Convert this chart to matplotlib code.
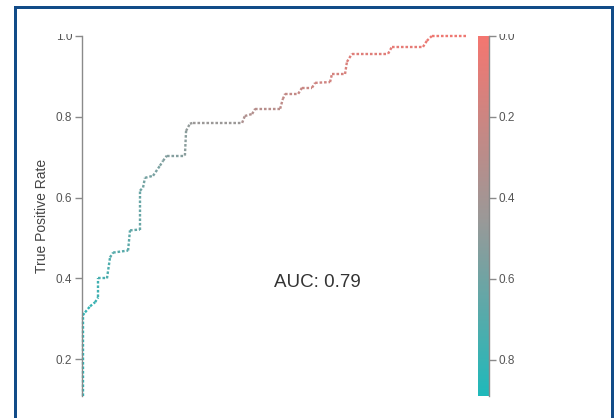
import numpy as np
import matplotlib as mpl
mpl.use("Agg")
import matplotlib.pyplot as plt
from matplotlib.collections import LineCollection
from matplotlib.colors import LinearSegmentedColormap, Normalize
from matplotlib.lines import Line2D
from matplotlib.patches import Rectangle

plt.rcParams['font.family'] = ['Liberation Sans', 'DejaVu Sans']

# ROC curve vertices and the threshold at each one
fpr = [0.002, 0.002, 0.008, 0.021, 0.034, 0.042, 0.042, 0.065, 0.073, 0.081,
       0.120, 0.125, 0.151, 0.151, 0.159, 0.164, 0.185, 0.203, 0.211, 0.221,
       0.268, 0.271, 0.281, 0.289, 0.417, 0.424, 0.443, 0.451, 0.516, 0.523,
       0.529, 0.563, 0.573, 0.599, 0.607, 0.646, 0.651, 0.685, 0.690, 0.703,
       0.797, 0.807, 0.888, 0.898, 0.911, 1.000]
tpr = [0.110, 0.309, 0.316, 0.331, 0.341, 0.353, 0.400, 0.400, 0.452, 0.464,
       0.469, 0.519, 0.521, 0.617, 0.625, 0.649, 0.654, 0.679, 0.691, 0.704,
       0.704, 0.765, 0.783, 0.785, 0.785, 0.802, 0.807, 0.820, 0.820, 0.844,
       0.857, 0.857, 0.872, 0.872, 0.884, 0.886, 0.906, 0.906, 0.936, 0.956,
       0.956, 0.973, 0.973, 0.988, 1.000, 1.000]
thresholds = [0.87, 0.84, 0.82, 0.80, 0.78, 0.77, 0.74, 0.72, 0.70, 0.69,
              0.67, 0.65, 0.63, 0.60, 0.59, 0.58, 0.57, 0.55, 0.54, 0.53,
              0.51, 0.48, 0.46, 0.45, 0.36, 0.34, 0.33, 0.31, 0.28, 0.26,
              0.25, 0.23, 0.22, 0.20, 0.19, 0.17, 0.16, 0.14, 0.12, 0.11,
              0.08, 0.07, 0.05, 0.04, 0.03, 0.00]
auc = 0.79
cbar_ticks = [0.0, 0.2, 0.4, 0.6, 0.8]

W, H = 614, 418
fig = plt.figure(figsize=(W / 100, H / 100), dpi=100)

def fx(px):
    return px / W

def fy(py):
    return 1 - py / H

cmap = LinearSegmentedColormap.from_list(
    "thr", ["#F47670", "#9C9897", "#1FB9BA"])
norm = Normalize(vmin=0.0, vmax=0.89)

ax = fig.add_axes([fx(82), fy(396), fx(466) - fx(82), fy(36) - fy(396)])
pts = np.column_stack([fpr, tpr])
segs = np.stack([pts[:-1], pts[1:]], axis=1)
seg_thr = np.array(thresholds[:-1])
lc = LineCollection(segs, cmap=cmap, norm=norm, linewidths=1.7,
                    linestyles=[(0, (1.1, 0.8))], capstyle='butt',
                    clip_on=False)
lc.set_array(seg_thr)
ax.add_collection(lc)
ax.set_xlim(0, 1)
ax.set_ylim(0.109, 1.0)
ax.set_yticks([0.2, 0.4, 0.6, 0.8, 1.0])
ax.set_yticklabels(["0.2", "0.4", "0.6", "0.8", "1.0"])
ax.set_xticks([])
for s in ["top", "right", "bottom"]:
    ax.spines[s].set_visible(False)
ax.spines["left"].set_color("#8a8a8a")
ax.spines["left"].set_linewidth(1.0)
ax.tick_params(axis="y", colors="#8a8a8a", labelcolor="#555555",
               labelsize=8.5, length=5, width=1.0, pad=2)
ax.set_ylabel("True Positive Rate", fontsize=10, color="#444444", labelpad=5)
ax.text(0.612, 0.39, f"AUC: {auc:.2f}", fontsize=13.5, color="#333333",
        ha="center", va="center")

# threshold colour bar
cax = fig.add_axes([fx(478), fy(396), fx(489) - fx(478), fy(36) - fy(396)])
sm = mpl.cm.ScalarMappable(norm=norm, cmap=cmap)
cb = fig.colorbar(sm, cax=cax, ticks=cbar_ticks)
cb.outline.set_visible(False)
cax.invert_yaxis()
cax.set_yticklabels([f"{t:.1f}" for t in cbar_ticks])
cax.tick_params(axis="y", colors="#8a8a8a", labelcolor="#555555",
                labelsize=8.5, length=5, width=1.0, pad=2)
cax.axvline(1.0, color="#8a8a8a", lw=1.0, clip_on=False)

# white strip above the panel, then the blue frame
fig.add_artist(Rectangle((fx(16), fy(34)), fx(610) - fx(16), fy(8) - fy(34),
                         transform=fig.transFigure, facecolor="white",
                         edgecolor="none", zorder=10))
blue = "#124C88"
lw = 3 * 72 / 100
fig.add_artist(Line2D([fx(14.5), fx(14.5), fx(611.5), fx(611.5)],
                      [fy(420), fy(6.5), fy(6.5), fy(420)],
                      transform=fig.transFigure, color=blue, lw=lw,
                      solid_joinstyle="miter", zorder=11))

fig.savefig("out.png", dpi=100)
